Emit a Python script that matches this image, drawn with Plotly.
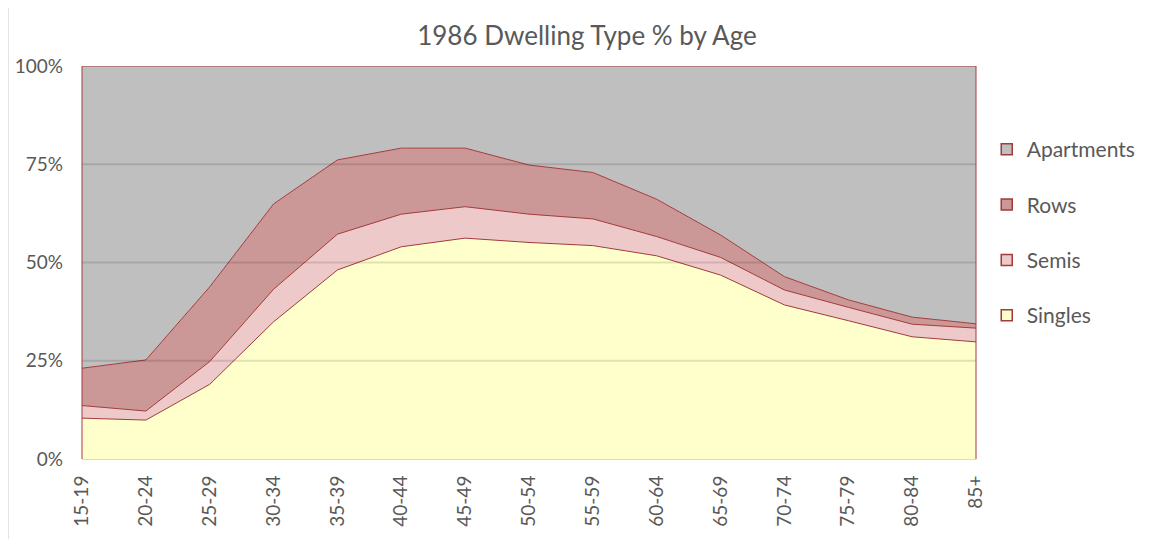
import plotly.graph_objects as go

ages = ["15-19", "20-24", "25-29", "30-34", "35-39", "40-44", "45-49", "50-54",
        "55-59", "60-64", "65-69", "70-74", "75-79", "80-84", "85+"]
singles = [10.4, 9.9, 19.0, 34.9, 48.1, 54.0, 56.2, 55.1, 54.3, 51.7, 46.8, 39.2, 35.2, 31.1, 29.8]
semis = [3.2, 2.3, 5.8, 8.3, 9.1, 8.3, 8.0, 7.2, 6.8, 4.9, 4.5, 3.8, 3.4, 3.2, 3.5]
rows = [9.5, 13.0, 19.0, 21.7, 18.9, 16.8, 14.9, 12.5, 11.8, 9.5, 5.7, 3.4, 1.9, 1.8, 1.1]
apartments = [round(100 - a - b - c, 1) for a, b, c in zip(singles, semis, rows)]
y_ticks = [0, 25, 50, 75, 100]
y_tick_labels = ["0%", "25%", "50%", "75%", "100%"]

line_col = "#A33B3A"
series = [
    ("Singles", singles, "#FFFFCC"),
    ("Semis", semis, "#EDC9C9"),
    ("Rows", rows, "#CB9797"),
    ("Apartments", apartments, "#BFBFBF"),
]

fig = go.Figure()
for name, vals, col in series:
    fig.add_trace(go.Scatter(
        x=ages, y=vals, name=name, stackgroup="one", mode="lines",
        line=dict(color=line_col, width=1), fillcolor=col,
        showlegend=False, hoverinfo="x+y+name",
    ))

# legend entries with square swatches (Apartments first)
for rank, (name, vals, col) in enumerate(reversed(series)):
    fig.add_trace(go.Scatter(
        x=[None], y=[None], name=name, mode="markers",
        marker=dict(symbol="square", size=11, color=col, line=dict(color=line_col, width=1.5)),
        legendgroup=name, legendrank=rank + 1, showlegend=True,
    ))

shapes = []
for t in y_ticks[1:-1]:
    shapes.append(dict(type="line", xref="paper", yref="y", x0=0, x1=1, y0=t, y1=t,
                       line=dict(color="rgba(0,0,0,0.12)", width=2), layer="above"))
for xv in [0, 1]:
    shapes.append(dict(type="line", xref="paper", yref="y", x0=xv, x1=xv, y0=0, y1=100,
                       line=dict(color=line_col, width=1), layer="above"))
shapes.append(dict(type="line", xref="paper", yref="paper", x0=-0.0825, x1=-0.0825, y0=-0.25, y1=1.2,
                   line=dict(color="#D9D9D9", width=1)))

font_fam = "Lato, 'Open Sans', sans-serif"
fig.update_layout(
    width=1151, height=539,
    margin=dict(l=74, r=183, t=58, b=88),
    paper_bgcolor="white", plot_bgcolor="white",
    font=dict(family=font_fam, color="#595959", size=19),
    title=dict(text="1986 Dwelling Type % by Age", x=0.503, xref="container", xanchor="center",
               y=0.948, yanchor="middle", yref="container",
               font=dict(size=26, color="#595959", family=font_fam)),
    xaxis=dict(type="category", range=[0, 14], tickangle=-90, showgrid=False,
               showline=True, linecolor="#D9D9D9", linewidth=1, ticks="",
               tickfont=dict(size=19, color="#595959"), ticklabelstandoff=8),
    yaxis=dict(range=[0, 100], tickvals=y_ticks, ticktext=y_tick_labels, showgrid=False,
               zeroline=False, showline=False, ticks="", tickfont=dict(size=19, color="#595959"),
               ticklabelstandoff=18, automargin=False),
    legend=dict(x=1.012, xanchor="left", y=0.576, yanchor="middle",
                traceorder="grouped", tracegroupgap=25,
                font=dict(size=21, color="#595959"), itemwidth=30, bgcolor="rgba(0,0,0,0)"),
    shapes=shapes,
    showlegend=True,
)

fig.write_html("out.html")
